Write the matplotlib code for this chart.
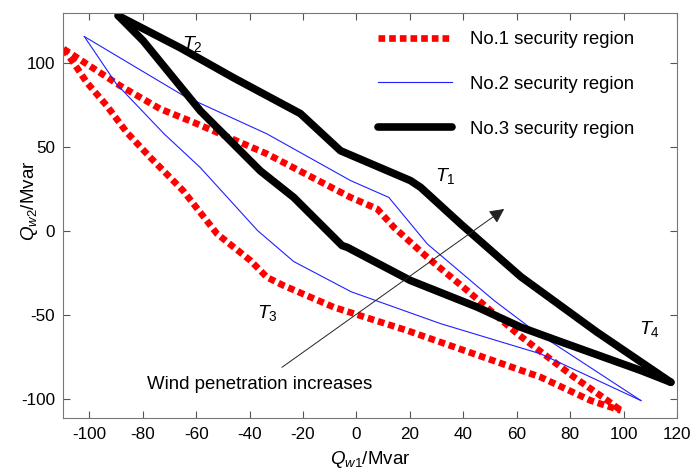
import matplotlib
matplotlib.use('Agg')
import matplotlib.pyplot as plt

plt.rcParams['font.family'] = 'Liberation Sans'
plt.rcParams['mathtext.fontset'] = 'custom'
plt.rcParams['mathtext.rm'] = 'Liberation Sans'
plt.rcParams['mathtext.it'] = 'Liberation Sans:italic'
plt.rcParams['axes.unicode_minus'] = False

# No.1 security region (red dotted), upper and lower boundary
r1_up_x = [-109.7, -104.8, -88.5, -73.5, -61, -33.5, -2.2, 7.8, 14, 26.5, 41.5, 60.3, 81.5, 94, 99]
r1_up_y = [108.6, 103.6, 86.7, 72.9, 64.9, 46.1, 20.2, 13.3, 2.4, -15.5, -35.3, -61.1, -86.9, -100.8, -106.7]
r1_lo_x = [-109.7, -106, -101, -93.5, -86, -77.2, -64.9, -52.2, -39.7, -33.5, -27.3, -8.5, 19, 44, 69, 87.7, 99]
r1_lo_y = [108.6, 100.6, 88.7, 74.8, 58.9, 44.0, 24.2, -1.5, -17.4, -27.4, -32.3, -45.2, -59.1, -73, -86.9, -100.8, -106.7]

# No.2 security region (thin blue)
r2_up_x = [-101.9, -64.8, -33.5, -2.2, 12.1, 26.5, 51.5, 66.4, 106.5]
r2_up_y = [116.0, 80.8, 58.0, 30.2, 20.2, -7.5, -41.2, -59.1, -100.8]
r2_lo_x = [-101.9, -90, -72, -58.5, -37, -23.5, -2, 31.5, 69, 106.5]
r2_lo_y = [116.0, 88, 58, 38, 0.4, -18, -36, -55, -73, -100.8]

# No.3 security region (thick black)
r3_up_x = [-89.2, -66.0, -46.1, -21.0, -6, 20.2, 24, 39, 61.5, 90, 117.7]
r3_up_y = [128.4, 109.3, 91.5, 70.1, 48, 30.2, 26.2, 4.4, -27, -60, -89.9]
r3_lo_x = [-89.2, -79.9, -58.5, -36, -23.5, -5.4, -3.5, 20.2, 45.3, 61.5, 75.3, 106.5, 117.7]
r3_lo_y = [128.4, 113.5, 71.8, 36, 20.2, -8.5, -9.5, -29.3, -45.2, -57.1, -65.1, -82.9, -89.9]

labels = ['No.1 security region', 'No.2 security region', 'No.3 security region']

fig = plt.figure(figsize=(6.94, 4.70), dpi=100)
ax = fig.add_axes([0.0903, 0.1113, 0.8852, 0.861])

red_style = dict(color='red', lw=4.8, linestyle=(0, (1, 0.6)))
blue_style = dict(color='#2020ff', lw=0.8)
black_style = dict(color='black', lw=5.5, solid_capstyle='round', solid_joinstyle='round')

ax.plot(r1_up_x, r1_up_y, label=labels[0], **red_style)
ax.plot(r1_lo_x, r1_lo_y, **red_style)
ax.plot(r2_up_x, r2_up_y, label=labels[1], **blue_style)
ax.plot(r2_lo_x, r2_lo_y, **blue_style)
ax.plot(r3_up_x, r3_up_y, label=labels[2], **black_style)
ax.plot(r3_lo_x, r3_lo_y, **black_style)

ax.set_xlim(-110, 120)
ax.set_ylim(-111, 130)
ax.set_xticks(range(-100, 121, 20))
ax.set_yticks([-100, -50, 0, 50, 100])
ax.tick_params(direction='in', length=5, top=True, right=True, labelsize=12.3,
               color='#555555')
ax.tick_params(axis='x', pad=6.5)
ax.tick_params(axis='y', pad=5.5)
for sp in ax.spines.values():
    sp.set_color('#777777')

ax.set_xlabel(r'$Q_{w1}$/Mvar', fontsize=13.5)
ax.set_ylabel(r'$Q_{w2}$/Mvar', fontsize=13.5)
ax.xaxis.set_label_coords(0.5, -0.077)
ax.yaxis.set_label_coords(-0.037, 0.535)

# corner labels
ax.text(-65.4, 108.7, r'$T_2$', fontsize=14)
ax.text(29.4, 30.2, r'$T_1$', fontsize=14)
ax.text(-37.2, -51.5, r'$T_3$', fontsize=14)
ax.text(105.9, -61, r'$T_4$', fontsize=14)

ax.annotate('', xy=(55.3, 13.3), xytext=(-27.9, -81),
            arrowprops=dict(arrowstyle='-|>', color='#222222', lw=0.7,
                            mutation_scale=22, shrinkA=0, shrinkB=0))
ax.text(-78.5, -91.5, 'Wind penetration increases', fontsize=13.4, va='center')

ax.legend(loc='upper left', bbox_to_anchor=(0.513, 0.955), frameon=False,
          fontsize=13.3, handlelength=4.0, handletextpad=1.0, labelspacing=1.5,
          borderpad=0, borderaxespad=0)

fig.savefig('out.png', dpi=100)
